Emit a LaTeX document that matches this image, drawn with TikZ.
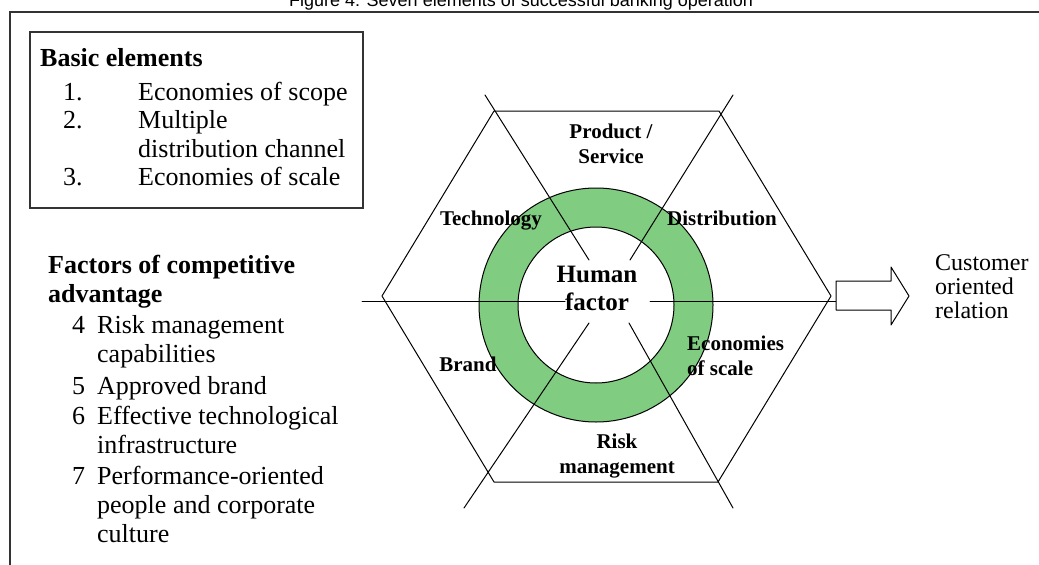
\documentclass[tikz,border=0pt]{standalone}
\usepackage{fontspec}
\setmainfont{Liberation Serif}
\newfontfamily\titlefont{Liberation Sans}
\usetikzlibrary{positioning}
\definecolor{ringgreen}{HTML}{80CC80}
\tikzset{
  edge/.style={draw=black, line width=1pt, line cap=round, line join=round},
  frame/.style={draw=black!80, line width=1.2pt},
  ring/.style={draw=black, line width=1pt, fill=ringgreen, even odd rule},
  titletxt/.style={font=\titlefont\fontsize{18}{22}\selectfont, inner sep=0pt},
  headtxt/.style={font=\fontsize{26}{29}\selectfont\bfseries, inner sep=0pt, align=left},
  bodytxt/.style={font=\fontsize{26}{29}\selectfont, inner sep=0pt},
  lab/.style={font=\fontsize{21}{25}\selectfont\bfseries, inner sep=0pt, align=center},
  hub/.style={font=\fontsize{25}{28}\selectfont\bfseries, inner sep=0pt, align=center},
  side/.style={font=\fontsize{24}{24}\selectfont, inner sep=0pt, align=left},
}
\begin{document}
\begin{tikzpicture}[x=1pt, y=-1pt]
  \useasboundingbox (0,0) rectangle (1039,565);
  % title and frame
  \node[titletxt, anchor=base] (title) at (521,6) {Figure 4: Seven elements of successful banking operation};
  \draw[frame] (10,565) -- (10,12) -- (1039,12);

  % basic elements
  \draw[frame] (30,32) rectangle (363,208);
  \node[headtxt, anchor=base west] (basic) at (40,66) {Basic elements};
  \foreach \i/\n/\t/\y in {1/1./Economies of scope/100, 2/2./Multiple/128,
      3//distribution channel/157, 4/3./Economies of scale/185} {
    \node[bodytxt, anchor=base west] (bn\i) at (63,\y) {\n};
    \node[bodytxt, anchor=base west] (bt\i) at (138,\y) {\t};
  }

  % competitive advantage
  \node[headtxt, anchor=base west] (factors) at (48,273) {Factors of competitive};
  \node[headtxt, anchor=base west] (factors2) at (48,302) {advantage};
  \foreach \i/\n/\t/\y in {1/4/Risk management/333, 2//capabilities/362,
      3/5/Approved brand/394, 4/6/Effective technological/424, 5//infrastructure/453,
      6/7/Performance-oriented/484, 7//people and corporate/513, 8//culture/542} {
    \node[bodytxt, anchor=base west] (fn\i) at (72,\y) {\n};
    \node[bodytxt, anchor=base west] (ft\i) at (97,\y) {\t};
  }

  % ring
  \coordinate (rc) at (596,305);
  \draw[ring] (rc) circle (117pt) (rc) circle (78pt);

  % hexagon
  \coordinate (hTL) at (494,111);
  \coordinate (hTR) at (719,111);
  \coordinate (hR) at (831,296);
  \coordinate (hBR) at (718,482);
  \coordinate (hBL) at (494,482);
  \coordinate (hL) at (382,296);
  \draw[edge] (hTL) -- (hTR) -- (hR) -- (hBR) -- (hBL) -- (hL) -- cycle;

  \coordinate (dA1) at (485,95);  \coordinate (dA2) at (589,260);
  \coordinate (dB1) at (733,95);  \coordinate (dB2) at (630,260);
  \coordinate (dC1) at (464,508); \coordinate (dC2) at (589,323);
  \coordinate (dD1) at (733,508); \coordinate (dD2) at (629,323);
  \draw[edge] (dA1) -- (dA2);
  \draw[edge] (dB1) -- (dB2);
  \draw[edge] (dC1) -- (dC2);
  \draw[edge] (dD1) -- (dD2);

  \coordinate (hzA1) at (362,301); \coordinate (hzA2) at (565,301);
  \coordinate (hzB1) at (650,301); \coordinate (hzB2) at (836,301);
  \draw[edge] (hzA1) -- (hzA2);
  \draw[edge] (hzB1) -- (hzB2);

  % output arrow
  \draw[edge, fill=white] (836,281) -- (891,281) -- (891,267) -- (909,296)
    -- (891,325) -- (891,310) -- (836,310) -- cycle;
  \node[side, anchor=base west] (cust) at (935,318) {Customer\\oriented\\relation};

  % labels (base = last line)
  \node[lab, anchor=base] (product) at (611,163) {Product /\\Service};
  \node[lab, anchor=base] (tech) at (491,225) {Technology};
  \node[lab, anchor=base] (dist) at (722,225) {Distribution};
  \node[hub, anchor=base] (human) at (597,310) {Human\\factor};
  \node[lab, anchor=base] (brand) at (468,371) {Brand};
  \node[lab, anchor=base west, align=left] (scale) at (687,375) {Economies\\of scale};
  \node[lab, anchor=base] (risk) at (617,473) {Risk\\management};
\end{tikzpicture}
\end{document}
